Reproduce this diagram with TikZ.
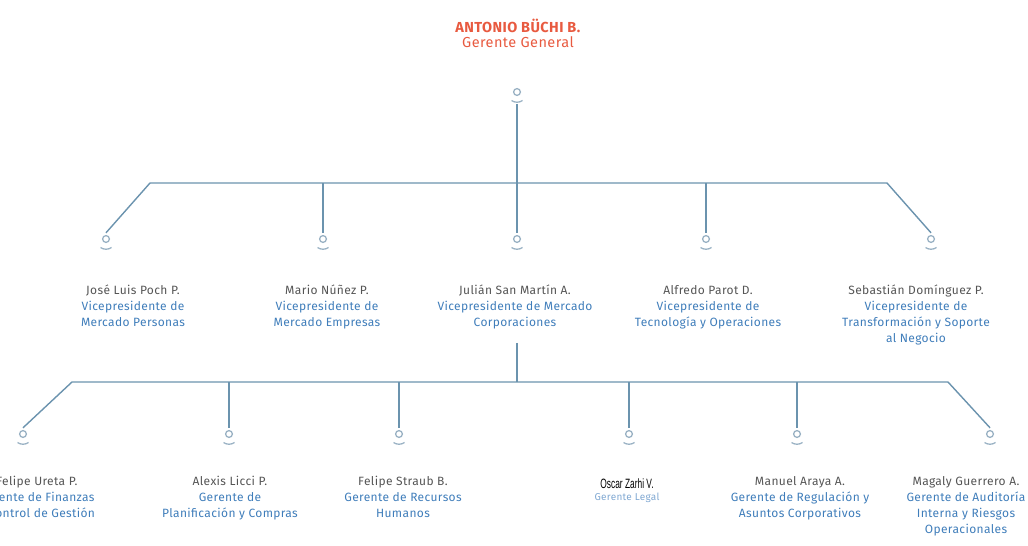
\documentclass[tikz,border=0pt]{standalone}
\usepackage{fontspec}
\setmainfont{Fira Sans}[LetterSpace=3]
\newfontfamily\estrecha{Liberation Sans}[FakeStretch=0.62]
\usetikzlibrary{positioning}

\definecolor{lineacol}{HTML}{6B93AE}
\definecolor{iconocol}{HTML}{9AB2C4}
\definecolor{nombrecol}{HTML}{555555}
\definecolor{cargocol}{HTML}{3F7DBA}
\definecolor{legalcol}{HTML}{80A8D2}
\definecolor{rojocol}{HTML}{E85A40}

\tikzset{
  persona/.style={minimum width=16pt, minimum height=18pt, inner sep=0pt,
    path picture={
      \draw[iconocol, line width=1.3pt] ([yshift=3pt]path picture bounding box.center) circle[radius=3.4pt];
      \draw[iconocol, line width=1.3pt] ([xshift=-5.5pt,yshift=-5.5pt]path picture bounding box.center)
        arc[start angle=235, end angle=305, radius=9.6pt];
    }},
  linea/.style={draw=lineacol, line width=1.4pt},
  cargo/.style={align=center, inner sep=0pt, anchor=base, text=cargocol,
    font=\fontsize{12}{16}\selectfont},
  titulo/.style={align=center, inner sep=0pt, anchor=base, text=rojocol,
    font=\fontsize{14.5}{15}\selectfont}
}

\begin{document}
\begin{tikzpicture}[x=1pt, y=-1pt]
  \useasboundingbox (0,0) rectangle (1028,546);
  \clip (0,0) rectangle (1028,546);

  % Gerente general (anchor base = ultima linea)
  \node[titulo] (tJefe) at (518,47) {\textbf{ANTONIO BÜCHI B.}\\Gerente General};
  \node[persona] (iJefe) at (517,95) {};

  % Vicepresidentes
  \node[persona] (iJose)      at (106,242) {};
  \node[persona] (iMario)     at (323,242) {};
  \node[persona] (iJulian)    at (517,242) {};
  \node[persona] (iAlfredo)   at (706,242) {};
  \node[persona] (iSebastian) at (931,242) {};

  \node[cargo] (tJose)      at (133,326) {\textcolor{nombrecol}{José Luis Poch P.}\\Vicepresidente de\\Mercado Personas};
  \node[cargo] (tMario)     at (327,326) {\textcolor{nombrecol}{Mario Núñez P.}\\Vicepresidente de\\Mercado Empresas};
  \node[cargo] (tJulian)    at (515,326) {\textcolor{nombrecol}{Julián San Martín A.}\\Vicepresidente de Mercado\\Corporaciones};
  \node[cargo] (tAlfredo)   at (708,326) {\textcolor{nombrecol}{Alfredo Parot D.}\\Vicepresidente de\\Tecnología y Operaciones};
  \node[cargo] (tSebastian) at (916,342) {\textcolor{nombrecol}{Sebastián Domínguez P.}\\Vicepresidente de\\Transformación y Soporte\\al Negocio};

  % Barra de vicepresidentes
  \coordinate (b1) at (150,183);
  \coordinate (b2) at (887,183);
  \draw[linea] (iJose.north) -- (b1) -- (b2) -- (iSebastian.north);
  \draw[linea] (iJefe.south) -- (iJulian.north);
  \draw[linea] (iMario.north)   -- (iMario.north |- b1);
  \draw[linea] (iAlfredo.north) -- (iAlfredo.north |- b1);

  % Gerentes
  \node[persona] (iFelipeU) at (23,437) {};
  \node[persona] (iAlexis)  at (229,437) {};
  \node[persona] (iFelipeS) at (399,437) {};
  \node[persona] (iOscar)   at (629,437) {};
  \node[persona] (iManuel)  at (797,437) {};
  \node[persona] (iMagaly)  at (990,437) {};

  \node[cargo] (tFelipeU) at (37,517)  {\textcolor{nombrecol}{Felipe Ureta P.}\\Gerente de Finanzas\\y Control de Gestión};
  \node[cargo] (tAlexis)  at (230,517) {\textcolor{nombrecol}{Alexis Licci P.}\\Gerente de\\Planificación y Compras};
  \node[cargo] (tFelipeS) at (403,517) {\textcolor{nombrecol}{Felipe Straub B.}\\Gerente de Recursos\\Humanos};
  \node[cargo, font=\fontsize{10}{12}\selectfont] (tOscar) at (627,500)
    {\textcolor{black}{\estrecha\fontsize{13.5}{12}\selectfont Oscar Zarhi V.}\\\textcolor{legalcol}{Gerente Legal}};
  \node[cargo] (tManuel)  at (800,517) {\textcolor{nombrecol}{Manuel Araya A.}\\Gerente de Regulación y\\Asuntos Corporativos};
  \node[cargo] (tMagaly)  at (966,533) {\textcolor{nombrecol}{Magaly Guerrero A.}\\Gerente de Auditoría\\Interna y Riesgos\\Operacionales};

  % Barra de gerentes
  \coordinate (d0) at (517,382);
  \coordinate (d1) at (72,382);
  \coordinate (d2) at (948,382);
  \draw[linea] ([yshift=-14pt]tJulian.south -| d0) -- (d0);
  \draw[linea] (iFelipeU.north) -- (d1) -- (d2) -- (iMagaly.north);
  \draw[linea, line width=2.4pt] (iAlexis.north) -- (iAlexis.north |- d1);
  \draw[linea] (iFelipeS.north) -- (iFelipeS.north |- d1);
  \draw[linea] (iOscar.north)   -- (iOscar.north |- d1);
  \draw[linea] (iManuel.north)  -- (iManuel.north |- d1);
\end{tikzpicture}
\end{document}
